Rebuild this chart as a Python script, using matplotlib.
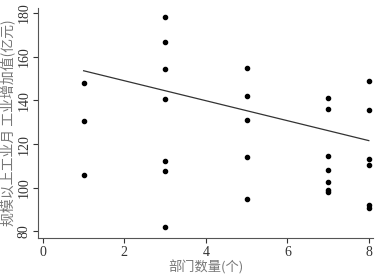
import matplotlib.pyplot as plt

# departments count vs monthly industrial value added
x1 = [1, 1, 1]
y1 = [148, 130.6, 106]
x3 = [3] * 7
y3 = [178.2, 166.9, 154.5, 140.5, 112.4, 107.5, 82.1]
x5 = [5] * 5
y5 = [154.8, 142, 131, 114, 94.7]
x7 = [7] * 7
y7 = [141.2, 136.2, 114.6, 108.3, 102.8, 99, 98]
x8 = [8] * 6
y8 = [148.7, 135.6, 113, 110.3, 92, 90.8]

xs = x1 + x3 + x5 + x7 + x8
ys = y1 + y3 + y5 + y7 + y8

# fitted line endpoints
fit_x = [1, 8]
fit_y = [153.6, 121.6]

xticks = [0, 2, 4, 6, 8]
yticks = [80, 100, 120, 140, 160, 180]

serif = ['Liberation Serif', 'DejaVu Serif']
cjk = ['Noto Sans CJK SC', 'DejaVu Sans']

fig = plt.figure(figsize=(3.81, 2.79), dpi=100)
ax = fig.add_axes([0.0997, 0.147, 0.879, 0.824])

ax.scatter(xs, ys, s=9, color='black', zorder=3)
ax.plot(fit_x, fit_y, color='#333333', lw=0.9)

ax.set_xlim(-0.12, 8.1)
ax.set_ylim(77, 182.3)
ax.set_xticks(xticks)
ax.set_yticks(yticks)
ax.set_xticklabels([str(t) for t in xticks], family=serif, fontsize=10)
ax.set_yticklabels([str(t) for t in yticks], family=serif, fontsize=10,
                   rotation=90, va='center')
ax.tick_params(length=3.5, width=0.8, colors='#333333', pad=2)

for s in ['top', 'right']:
    ax.spines[s].set_visible(False)
for s in ['left', 'bottom']:
    ax.spines[s].set_color('#555555')
    ax.spines[s].set_linewidth(0.8)

ax.set_xlabel('部门数量(个)', family=cjk, fontsize=9.5, color='#777777', labelpad=1)
ax.set_ylabel('规模以上工业月 工业增加值(亿元)', family=cjk, fontsize=10,
              color='#777777', labelpad=1)

fig.savefig('out.png', dpi=100)
